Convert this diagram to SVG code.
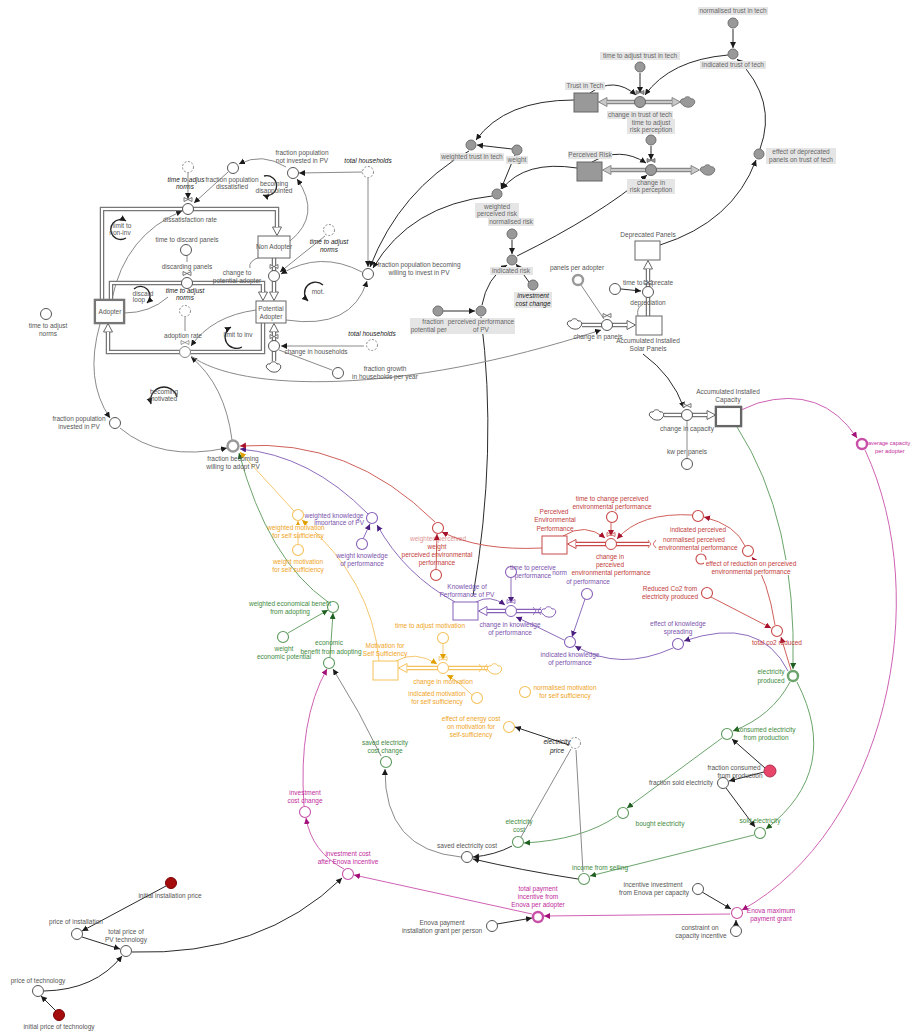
<svg xmlns="http://www.w3.org/2000/svg" width="913" height="1032" viewBox="0 0 913 1032">
<defs>
<style>
text{font-family:"Liberation Sans",Arial,sans-serif;font-size:6.5px;text-anchor:middle;fill:#555}
text.it{font-style:italic;fill:#1a1a1a}
text.r{fill:#c23b3b} text.p{fill:#7b52ad} text.o{fill:#f0a41c} text.g{fill:#3e8a3e} text.m{fill:#c22a9c}
text.gb{fill:#666}
.bg{fill:#e5e5e5}
.n{fill:#fff;stroke:#555;stroke-width:1}
.ng{fill:#999;stroke:#6f6f6f;stroke-width:1}
.nh{fill:#fff;stroke:#888;stroke-width:1;stroke-dasharray:2 1.6}
.nr{fill:#fff;stroke:#c84848;stroke-width:1.1}
.np{fill:#fff;stroke:#8660b8;stroke-width:1.1}
.no{fill:#fff;stroke:#f5c15a;stroke-width:1.1}
.ngn{fill:#fff;stroke:#5c9a5c;stroke-width:1.1}
.nm{fill:#fff;stroke:#c850a8;stroke-width:1.1}
.thick{stroke-width:2.4}
.s{fill:#fff;stroke:#666;stroke-width:1}
.sg{fill:#999;stroke:#666;stroke-width:1}
.l{fill:none;stroke-width:1}
.ck{stroke:#2a2a2a;marker-end:url(#ak)}
.cg{stroke:#8a8a8a;marker-end:url(#ak)}
.cn{stroke:#8a8a8a}
.cr{stroke:#d0605a;marker-end:url(#ar)}
.cp{stroke:#8d6cbc;marker-end:url(#ap)}
.co{stroke:#f6c870;marker-end:url(#ao)}
.cgn{stroke:#6ba46b;marker-end:url(#ag)}
.cm{stroke:#cf62b4;marker-end:url(#am)}
.lp{fill:none;stroke:#222;stroke-width:1.3;marker-end:url(#ak)}
.po{fill:none;stroke-width:4.5}
.pi{fill:none;stroke:#fff;stroke-width:2}
</style>
<marker id="ak" markerUnits="userSpaceOnUse" markerWidth="7" markerHeight="7" refX="6" refY="3" orient="auto"><path d="M0,0L6,3L0,6z" fill="#1a1a1a"/></marker>
<marker id="ar" markerUnits="userSpaceOnUse" markerWidth="7" markerHeight="7" refX="6" refY="3" orient="auto"><path d="M0,0L6,3L0,6z" fill="#a8122c"/></marker>
<marker id="ap" markerUnits="userSpaceOnUse" markerWidth="7" markerHeight="7" refX="6" refY="3" orient="auto"><path d="M0,0L6,3L0,6z" fill="#4b1f7f"/></marker>
<marker id="ao" markerUnits="userSpaceOnUse" markerWidth="7" markerHeight="7" refX="6" refY="3" orient="auto"><path d="M0,0L6,3L0,6z" fill="#e0a000"/></marker>
<marker id="ag" markerUnits="userSpaceOnUse" markerWidth="7" markerHeight="7" refX="6" refY="3" orient="auto"><path d="M0,0L6,3L0,6z" fill="#1f5f1f"/></marker>
<marker id="am" markerUnits="userSpaceOnUse" markerWidth="7" markerHeight="7" refX="6" refY="3" orient="auto"><path d="M0,0L6,3L0,6z" fill="#a3107a"/></marker>
<marker id="tk" markerUnits="userSpaceOnUse" markerWidth="12" markerHeight="12" refX="1" refY="5" orient="auto-start-reverse"><path d="M1,0.5L9.5,5L1,9.5z" fill="#fff" stroke="#666"/></marker>
<marker id="tgy" markerUnits="userSpaceOnUse" markerWidth="12" markerHeight="12" refX="1" refY="5" orient="auto-start-reverse"><path d="M1,0.5L9.5,5L1,9.5z" fill="#c8c8c8" stroke="#888"/></marker>
<marker id="tr" markerUnits="userSpaceOnUse" markerWidth="12" markerHeight="12" refX="1" refY="5" orient="auto-start-reverse"><path d="M1,0.5L9.5,5L1,9.5z" fill="#fff" stroke="#c84848"/></marker>
<marker id="tp" markerUnits="userSpaceOnUse" markerWidth="12" markerHeight="12" refX="1" refY="5" orient="auto-start-reverse"><path d="M1,0.5L9.5,5L1,9.5z" fill="#fff" stroke="#8660b8"/></marker>
<marker id="to" markerUnits="userSpaceOnUse" markerWidth="12" markerHeight="12" refX="1" refY="5" orient="auto-start-reverse"><path d="M1,0.5L9.5,5L1,9.5z" fill="#fff" stroke="#f5c15a"/></marker>
<g id="valve"><path d="M-4,-11.5L4,-7.5L4,-11.5L-4,-7.5Z" stroke="currentColor" stroke-width="0.8"/><circle r="5.5" stroke="currentColor" stroke-width="1"/></g>
<path id="cloud" d="M-6,2C-9,1 -8,-4 -4,-3C-3,-6 2,-6 3,-3C7,-4 8,1 5,3C4,6 -4,6 -6,2Z" stroke="currentColor" stroke-width="1"/>
<path id="ends" d="M-4,-4L-1,0L-4,4M4,-4L1,0L4,4" fill="none" stroke="currentColor" stroke-width="0.8"/>
</defs>
<rect width="913" height="1032" fill="#fff"/>

<!-- connectors -->
<g id="connectors">
<!-- trust / risk block -->
<path class="l ck" d="M733,29L733,48"/>
<path class="l ck" d="M640,73L640,93"/>
<path class="l ck" d="M590,93Q614,76 636,95"/>
<path class="l ck" d="M728,55Q670,60 645,95"/>
<path class="l ck" d="M760,149Q778,100 737,59"/>
<path class="l ck" d="M660,245Q733,222 756,160"/>
<path class="l ck" d="M651,146L651,160"/>
<path class="l ck" d="M592,162Q620,146 646,163"/>
<path class="l ck" d="M517,256Q600,215 647,175"/>
<path class="l ck" d="M574,100Q505,100 476,140"/>
<path class="l ck" d="M512,149L477,145"/>
<path class="l ck" d="M515,155L501,189"/>
<path class="l ck" d="M577,168Q525,160 502,189"/>
<path class="l ck" d="M469,151Q400,190 370,267"/>
<path class="l ck" d="M492,196Q410,205 373,268"/>
<path class="l ck" d="M512,240L512,254"/>
<path class="l ck" d="M529,282L516,264"/>
<path class="l ck" d="M443,311L475,311"/>
<path class="l ck" d="M482,305Q487,278 507,265"/>
<path class="l" stroke="#2a2a2a" d="M473,596Q498,450 481,317"/>
<!-- adoption block -->
<path class="l cg" d="M362,172L299,173"/>
<path class="l cg" d="M368,178L368,267"/>
<path class="l cg" d="M286,167Q262,152 239,164"/>
<path class="l cg" d="M228,172L194,203"/>
<path class="l cg" d="M188,173L188,199"/>
<path class="l cg" d="M112,299Q125,235 182,211"/>
<path class="l cg" d="M290,241Q322,215 297,179"/>
<path class="l cn" d="M187,256L187,262"/>
<path class="l cn" d="M124,313Q150,313 168,297"/>
<path class="l cn" d="M185,317L185,331"/>
<path class="l cg" d="M256,310Q212,316 191,346"/>
<path class="l cg" d="M232,440Q225,385 191,357"/>
<path class="l cg" d="M191,356C240,392 400,396 601,330"/>
<path class="l cg" d="M100,324Q84,380 110,418"/>
<path class="l cg" d="M120,428Q160,462 227,448"/>
<path class="l cg" d="M286,320Q352,330 367,281"/>
<path class="l cg" d="M362,272Q320,250 281,274"/>
<path class="l cg" d="M325,236L280,272"/>
<path class="l cn" d="M260,257Q248,261 250,268"/>
<path class="l cg" d="M364,346L281,346"/>
<path class="l cn" d="M332,370L279,350"/>
<!-- panels -->
<path class="l cn" d="M581,285L604,319"/>
<path class="l ck" d="M621,289L641,291"/>
<path class="l cn" d="M638,316Q636,308 643,304"/>
<path class="l ck" d="M643,354Q672,375 684,408"/>
<path class="l cn" d="M687,458L687,421"/>
<!-- incentive / cost chain -->
<path class="l cm" d="M741,410L758,403Q822,385 857,438"/>
<path class="l cm" d="M865,450C935,600 885,830 742,910"/>
<path class="l cm" d="M730,914L544,916"/>
<path class="l cm" d="M532,914L354,875"/>
<path class="l cm" d="M344,869Q312,852 306,818"/>
<path class="l cm" d="M304,806Q298,720 327,669"/>
<path class="l ck" d="M497,924L532,918"/>
<path class="l ck" d="M702,892L731,909"/>
<path class="l ck" d="M736,925L736,920"/>
<path class="l ck" d="M166,886L82,931"/>
<path class="l ck" d="M82,937L120,949"/>
<path class="l ck" d="M56,1011L41,996"/>
<path class="l ck" d="M44,991Q95,990 122,956"/>
<path class="l ck" d="M132,952Q262,956 342,878"/>
<!-- electricity -->
<path class="l cgn" d="M737,427Q797,520 793,669"/>
<path class="l cgn" d="M790,682Q772,716 733,731"/>
<path class="l cgn" d="M797,682Q842,770 766,829"/>
<path class="l cgn" d="M722,738L627,808"/>
<path class="l ck" d="M765,768L732,739"/>
<path class="l ck" d="M764,772L729,781"/>
<path class="l ck" d="M726,788L755,827"/>
<path class="l cgn" d="M754,835L590,876"/>
<path class="l cgn" d="M617,816Q582,840 524,843"/>
<path class="l ck" d="M512,846Q495,855 473,857"/>
<path class="l ck" d="M578,879Q520,870 473,859"/>
<path class="l cg" d="M461,857Q384,850 385,769"/>
<path class="l cg" d="M381,756Q360,712 333,669"/>
<path class="l cgn" d="M330,657L333,613"/>
<path class="l cgn" d="M288,633L328,610"/>
<path class="l cgn" d="M328,602Q268,560 239,453"/>
<path class="l ck" d="M569,745L515,727"/>
<path class="l cn" d="M571,749L521,837"/>
<path class="l cn" d="M576,750L583,872"/>
<!-- motivation -->
<path class="l co" d="M294,511L240,452"/>
<path class="l co" d="M298,545L298,521"/>
<path class="l co" d="M379,661Q372,580 302,520"/>
<path class="l co" d="M443,643L443,660"/>
<path class="l co" d="M396,661Q415,650 437,664"/>
<path class="l co" d="M472,695Q460,682 447,675"/>
<!-- knowledge -->
<path class="l cp" d="M368,514Q310,455 240,449"/>
<path class="l cp" d="M363,539L370,524"/>
<path class="l cp" d="M455,602Q405,575 377,525"/>
<path class="l cp" d="M511,577L511,603"/>
<path class="l cp" d="M476,602Q490,594 505,605"/>
<path class="l cp" d="M564,640Q540,628 516,617"/>
<path class="l cp" d="M585,599L572,637"/>
<path class="l cp" d="M788,671Q760,615 684,641"/>
<path class="l cp" d="M673,648Q620,672 575,646"/>
<!-- environmental performance -->
<path class="l cr" d="M435,522Q350,438 240,446"/>
<path class="l cr" d="M436,570L437,534"/>
<path class="l cr" d="M542,548Q480,551 442,532"/>
<path class="l cr" d="M611,522L611,536"/>
<path class="l cr" d="M563,536Q585,522 605,538"/>
<path class="l cr" d="M693,515Q640,512 617,539"/>
<path class="l cr" d="M745,546Q736,525 704,517"/>
<path class="l cr" d="M775,625Q768,580 752,557"/>
<path class="l cr" d="M711,597L771,628"/>
<path class="l cr" d="M791,670L781,637"/>
<!-- feedback loop markers -->
<path class="lp" d="M126,238A10,10 0 1 1 126,221"/>
<path class="lp" d="M264,176A10,10 0 1 1 263,195"/>
<path class="lp" d="M134,289A9,9 0 1 1 147,303"/>
<path class="lp" d="M242,347A10,10 0 1 1 231,327"/>
<path class="lp" d="M323,285A9,9 0 1 0 308,301"/>
<path class="lp" d="M177,397A12,12 0 1 0 151,404"/>
</g>

<!-- material flows -->
<g id="flows">
<path class="po" stroke="#888" marker-start="url(#tgy)" marker-end="url(#tgy)" d="M607,102L672,102"/><path class="pi" style="stroke:#c8c8c8" d="M607,102L672,102"/>
<path class="po" stroke="#888" marker-start="url(#tgy)" marker-end="url(#tgy)" d="M611,170L691,170"/><path class="pi" style="stroke:#c8c8c8" d="M611,170L691,170"/>
<path class="po" stroke="#777" marker-end="url(#tk)" d="M102,300L102,209L277,209L277,227"/><path class="pi" d="M102,300L102,209L277,209L277,227"/>
<path class="po" stroke="#777" marker-end="url(#tk)" d="M111,300L111,283L263,283L263,292"/><path class="pi" d="M111,300L111,283L263,283L263,292"/>
<path class="po" stroke="#777" marker-end="url(#tk)" d="M274,258L274,292"/><path class="pi" d="M274,258L274,292"/>
<path class="po" stroke="#777" marker-end="url(#tk)" d="M263,323L263,352L108,352L108,332"/><path class="pi" d="M263,323L263,352L108,352L108,332"/>
<path class="po" stroke="#777" marker-end="url(#tk)" d="M274,361L274,332"/><path class="pi" d="M274,361L274,332"/>
<path class="po" stroke="#777" marker-end="url(#tk)" d="M582,325L627,325"/><path class="pi" d="M582,325L627,325"/>
<path class="po" stroke="#777" marker-end="url(#tk)" d="M648,316L648,269"/><path class="pi" d="M648,316L648,269"/>
<path class="po" stroke="#777" marker-end="url(#tk)" d="M664,415L707,415"/><path class="pi" d="M664,415L707,415"/>
<path class="po" stroke="#c84848" marker-end="url(#tr)" d="M649,544L576,544"/><path class="pi" d="M649,544L576,544"/>
<path class="po" stroke="#8660b8" marker-end="url(#tp)" d="M541,611L487,611"/><path class="pi" d="M541,611L487,611"/>
<path class="po" stroke="#f5c15a" marker-end="url(#to)" d="M488,668L407,668"/><path class="pi" d="M488,668L407,668"/>
<use href="#cloud" x="688" y="102" color="#777" fill="#999"/>
<use href="#cloud" x="708" y="170" color="#777" fill="#999"/>
<use href="#cloud" x="274" y="367" color="#555" fill="#fff"/>
<use href="#cloud" x="575" y="324" color="#555" fill="#fff"/>
<use href="#cloud" x="657" y="415" color="#555" fill="#fff"/>
<use href="#ends" x="652" y="544" color="#c84848"/>
<use href="#ends" x="537" y="611" color="#8660b8"/>
<use href="#cloud" x="549" y="612" color="#8660b8" fill="#fff"/>
<use href="#ends" x="483" y="668" color="#f5c15a"/>
<use href="#cloud" x="495" y="669" color="#f5c15a" fill="#fff"/>
</g>

<!-- trust and risk -->
<g id="normalised-trust"><rect class="bg" x="698" y="7" width="70" height="8"/><text class="gb" x="733" y="13">normalised trust in tech</text><circle class="ng" cx="733" cy="23" r="5"/></g>
<g id="time-adjust-trust"><rect class="bg" x="600" y="52" width="80" height="8"/><text class="gb" x="640" y="58">time to adjust trust in tech</text><circle class="ng" cx="640" cy="67" r="5"/></g>
<g id="indicated-trust"><circle class="ng" cx="733" cy="54" r="5"/><rect class="bg" x="700" y="61" width="66" height="8"/><text class="gb" x="733" y="67">indicated trust of tech</text></g>
<g id="trust-in-tech"><rect class="bg" x="565" y="82" width="40" height="8"/><text class="gb" x="585" y="88">Trust in Tech</text><rect class="sg" x="574" y="93" width="24" height="19"/></g>
<g id="change-trust"><use href="#valve" x="640" y="102" color="#666" fill="#999"/><rect class="bg" x="607" y="111" width="66" height="8"/><text class="gb" x="640" y="117">change in trust of tech</text></g>
<g id="time-adjust-risk"><rect class="bg" x="627" y="119" width="48" height="15"/><text class="gb" x="651" y="125">time to adjust</text><text class="gb" x="651" y="132">risk perception</text><circle class="ng" cx="651" cy="140" r="5"/></g>
<g id="perceived-risk"><rect class="bg" x="568" y="151" width="44" height="8"/><text class="gb" x="590" y="157">Perceived Risk</text><rect class="sg" x="577" y="162" width="25" height="19"/></g>
<g id="change-risk"><use href="#valve" x="651" y="170" color="#666" fill="#999"/><rect class="bg" x="627" y="179" width="48" height="15"/><text class="gb" x="651" y="185">change in</text><text class="gb" x="651" y="192">risk perception</text></g>
<g id="effect-deprecated"><circle class="ng" cx="759" cy="154" r="5"/><rect class="bg" x="766" y="148" width="70" height="16"/><text class="gb" x="801" y="154">effect of deprecated</text><text class="gb" x="801" y="162">panels on trust of tech</text></g>
<g id="weighted-trust"><circle class="ng" cx="471" cy="145" r="5"/><rect class="bg" x="440" y="153" width="64" height="8"/><text class="gb" x="472" y="159">weighted trust in tech</text></g>
<g id="weight"><circle class="ng" cx="517" cy="150" r="5"/><rect class="bg" x="506" y="156" width="22" height="8"/><text class="gb" x="517" y="162">weight</text></g>
<g id="weighted-risk"><circle class="ng" cx="497" cy="194" r="5"/><rect class="bg" x="475" y="203" width="44" height="15"/><text class="gb" x="497" y="209">weighted</text><text class="gb" x="497" y="216">perceived risk</text></g>
<g id="normalised-risk"><rect class="bg" x="488" y="218" width="46" height="8"/><text class="gb" x="511" y="224">normalised risk</text><circle class="ng" cx="512" cy="234" r="5"/></g>
<g id="indicated-risk"><circle class="ng" cx="512" cy="260" r="5"/><rect class="bg" x="490" y="267" width="43" height="8"/><text class="gb" x="511" y="273">indicated risk</text></g>
<g id="investment-cost-change-ref"><circle class="ng" cx="533" cy="285" r="5"/><rect class="bg" x="514" y="292" width="38" height="16"/><text class="it" x="533" y="298">investment</text><text class="it" x="533" y="306">cost change</text></g>
<g id="fraction-potential-perceived"><circle class="ng" cx="438" cy="311" r="5"/><rect class="bg" x="410" y="318" width="56" height="16"/><text class="gb" x="433" y="324">fraction</text><text class="gb" x="438" y="332">potential perceived</text></g>
<g id="perceived-performance"><circle class="ng" cx="481" cy="311" r="5"/><rect class="bg" x="447" y="318" width="68" height="16"/><text class="gb" x="481" y="324">perceived performance</text><text class="gb" x="481" y="332">of PV</text></g>

<!-- adopter stocks and norms -->
<g id="not-invested"><text x="302" y="155">fraction population</text><text x="302" y="163">not invested in PV</text><circle class="n" cx="293" cy="173" r="5.5"/></g>
<g id="total-households-1"><text class="it" x="368" y="163">total households</text><circle class="nh" cx="368" cy="172" r="5.5"/></g>
<g id="dissatisfied"><circle class="n" cx="233" cy="168" r="5.5"/><text x="232" y="182">fraction population</text><text x="232" y="189">dissatisfied</text></g>
<g id="time-adjust-norms-1"><circle class="nh" cx="188" cy="167" r="5.5"/><text class="it" x="186" y="182">time to adjus</text><text class="it" x="185" y="189">norms</text></g>
<g id="loop-disappointed"><text x="274" y="186">becoming</text><text x="274" y="193">disappointed</text></g>
<g id="dissatisfaction-rate"><use href="#valve" x="188" y="209" color="#555" fill="#fff"/><text x="190" y="222">dissatisfaction rate</text></g>
<g id="loop-non-inv"><text x="122" y="228">limit to</text><text x="120" y="235">non-inv</text></g>
<g id="non-adopter"><rect class="s" x="258" y="236" width="32" height="22"/><text x="274" y="249">Non Adopter</text></g>
<g id="time-discard"><text x="187" y="242">time to discard panels</text><circle class="n" cx="186" cy="250" r="5.5"/></g>
<g id="discarding-panels"><text x="187" y="269">discarding panels</text><use href="#valve" x="187" y="283" color="#555" fill="#fff"/></g>
<g id="change-potential"><use href="#valve" x="274" y="276" color="#555" fill="#fff"/><text x="237" y="275">change to</text><text x="237" y="283">potential adopter</text></g>
<g id="time-adjust-norms-2"><text class="it" x="185" y="293">time to adjust</text><text class="it" x="185" y="300">norms</text><circle class="nh" cx="185" cy="311" r="5.5"/></g>
<g id="loop-discard"><text x="143" y="296">discard</text><text x="139" y="302">loop</text></g>
<g id="adopter"><rect x="95" y="300" width="29" height="23" fill="#fff" stroke="#777" stroke-width="2.6"/><rect x="96.5" y="301.5" width="26" height="20" fill="none" stroke="#fff" stroke-width="0.8"/><text x="110" y="314">Adopter</text></g>
<g id="potential-adopter"><rect class="s" x="256" y="301" width="30" height="22"/><text x="271" y="311">Potential</text><text x="271" y="319">Adopter</text></g>
<g id="adoption-rate"><text x="183" y="338">adoption rate</text><use href="#valve" x="185" y="352" color="#888" fill="#fff" stroke-width="2"/></g>
<g id="loop-inv"><text x="238" y="337">limit to inv</text></g>
<g id="time-adjust-norms-3"><circle class="n" cx="46" cy="314" r="5.5"/><text x="48" y="328">time to adjust</text><text x="48" y="336">norms</text></g>
<g id="becoming-willing-invest"><circle class="n" cx="368" cy="274" r="5.5"/><text x="419" y="267">fraction population becoming</text><text x="419" y="275">willing to invest in PV</text></g>
<g id="time-adjust-norms-4"><circle class="nh" cx="329" cy="230" r="5.5"/><text class="it" x="329" y="244">time to adjust</text><text class="it" x="329" y="252">norms</text></g>
<g id="loop-mot"><text x="318" y="294">mot.</text></g>
<g id="change-households"><use href="#valve" x="274" y="346" color="#555" fill="#fff"/><text x="316" y="354">change in households</text></g>
<g id="total-households-2"><text class="it" x="372" y="336">total households</text><circle class="nh" cx="372" cy="345" r="5.5"/></g>
<g id="fraction-growth"><circle class="n" cx="338" cy="373" r="5.5"/><text x="385" y="371">fraction growth</text><text x="385" y="379">in households per year</text></g>
<g id="loop-motivated"><text x="164" y="394">becoming</text><text x="163" y="401">motivated</text></g>
<g id="invested"><circle class="n" cx="115" cy="423" r="5.5"/><text x="79" y="421">fraction population</text><text x="79" y="429">invested in PV</text></g>
<g id="becoming-willing-adopt"><circle cx="233" cy="446" r="5.5" fill="#fff" stroke="#999" stroke-width="2.4"/><text x="233" y="461">fraction becoming</text><text x="233" y="469">willing to adopt PV</text></g>

<!-- installed panels and capacity -->
<g id="panels-per-adopter"><text x="577" y="270">panels per adopter</text><circle cx="578" cy="280" r="5" fill="#fff" stroke="#999" stroke-width="2.4"/></g>
<g id="deprecated-panels"><text x="648" y="237">Deprecated Panels</text><rect class="s" x="635" y="241" width="25" height="19"/></g>
<g id="time-deprecate"><circle class="n" cx="615" cy="289" r="5.5"/><text x="648" y="285">time to deprecate</text></g>
<g id="depreciation"><use href="#valve" x="648" y="292" color="#555" fill="#fff"/><text x="648" y="305">depreciation</text></g>
<g id="change-panels"><use href="#valve" x="607" y="325" color="#555" fill="#fff"/><text x="598" y="339">change in panels</text></g>
<g id="solar-panels"><rect class="s" x="636" y="316" width="26" height="19"/><text x="648" y="343">Accumulated Installed</text><text x="648" y="351">Solar Panels</text></g>
<g id="installed-capacity"><text x="728" y="394">Accumulated Installed</text><text x="728" y="402">Capacity</text><rect x="716" y="407" width="25" height="19" fill="#fff" stroke="#666" stroke-width="2.6"/><rect x="717.5" y="408.5" width="22" height="16" fill="none" stroke="#fff" stroke-width="0.8"/></g>
<g id="change-capacity"><use href="#valve" x="687" y="415" color="#555" fill="#fff"/><text x="687" y="431">change in capacity</text></g>
<g id="kw-per-panels"><text x="687" y="454">kw per panels</text><circle class="n" cx="687" cy="464" r="5.5"/></g>
<g id="average-capacity"><circle class="nm thick" cx="862" cy="444" r="5"/><text class="m" x="868" y="445" style="text-anchor:start;font-size:5.6px">average capacity</text><text class="m" x="875" y="453" style="text-anchor:start;font-size:5.8px">per adopter</text></g>

<!-- perceived environmental performance -->
<g id="time-change-perceived"><text class="r" x="612" y="501">time to change perceived</text><text class="r" x="612" y="509">environmental performance</text><circle class="nr" cx="612" cy="517" r="5.5"/></g>
<g id="perceived-env"><text class="r" x="554" y="514">Perceived</text><text class="r" x="555" y="522">Environmental</text><text class="r" x="555" y="531">Performance</text><rect x="542" y="536" width="25" height="18" fill="#fff" stroke="#c84848"/></g>
<g id="indicated-perceived"><circle class="nr" cx="698" cy="516" r="5.5"/><text class="r" x="698" y="532">indicated perceived</text></g>
<g id="normalised-perceived"><text class="r" x="694" y="542">normalised perceived</text><text class="r" x="698" y="550">environmental performance</text><circle class="nr" cx="701" cy="559" r="5"/></g>
<g id="effect-reduction"><circle class="nr" cx="748" cy="551" r="5.5"/><rect x="704" y="560" width="96" height="15" fill="#fff"/><text class="r" x="751" y="566">effect of reduction on perceived</text><text class="r" x="751" y="574">environmental performance</text></g>
<g id="reduced-co2"><text class="r" x="670" y="591">Reduced Co2 from</text><text class="r" x="670" y="599">electricity produced</text><circle class="nr" cx="707" cy="593" r="5.5"/></g>
<g id="total-co2"><circle class="nr" cx="777" cy="631" r="5.5"/><text class="r" x="777" y="645">total co2 reduced</text></g>
<g id="weighted-perceived-env"><circle class="nr" cx="438" cy="528" r="5.5"/><text class="r" x="438" y="541" opacity="0.55">weighted perceived</text><text class="r" x="437" y="549">weight</text><text class="r" x="437" y="557">perceived environmental</text><text class="r" x="437" y="565">performance</text></g>
<g id="weight-perceived-env"><circle class="nr" cx="436" cy="575" r="5.5"/></g>

<!-- knowledge of performance -->
<g id="weighted-knowledge"><circle class="np" cx="372" cy="518" r="5.5"/><text class="p" x="334" y="518">weighted knowledge</text><text class="p" x="364" y="525" style="text-anchor:end">importance of PV</text></g>
<g id="weight-knowledge"><circle class="np" cx="362" cy="544" r="5.5"/><text class="p" x="362" y="558">weight knowledge</text><text class="p" x="362" y="566">of performance</text></g>
<g id="knowledge"><text class="p" x="467" y="589">Knowledge of</text><text class="p" x="467" y="597">Performance of PV</text><rect x="453" y="602" width="25" height="18" fill="#fff" stroke="#8660b8"/></g>
<g id="time-perceive"><circle class="np" cx="511" cy="572" r="5.5"/><text class="p" x="533" y="570">time to perceive</text><text class="p" x="533" y="578">performance</text></g>
<g id="change-knowledge"><use href="#valve" x="511" y="611" color="#8660b8" fill="#fff"/><text class="p" x="510" y="627">change in knowledge</text><text class="p" x="510" y="635">of performance</text></g>
<g id="normalised-knowledge"><text class="p" x="567" y="575" style="text-anchor:end">norm</text><text class="p" x="588" y="584">of performance</text><circle class="np" cx="587" cy="594" r="5.5"/></g>
<g id="change-perceived-env"><use href="#valve" x="611" y="544" color="#c84848" fill="#fff"/><text class="r" x="610" y="559">change in</text><text class="r" x="610" y="567">perceived</text><text class="r" x="611" y="575">environmental performance</text></g>
<g id="indicated-knowledge"><circle class="np" cx="570" cy="642" r="5.5"/><text class="p" x="570" y="657">indicated knowledge</text><text class="p" x="570" y="665">of performance</text></g>
<g id="effect-knowledge"><text class="p" x="678" y="626">effect of knowledge</text><text class="p" x="678" y="634">spreading</text><circle class="np" cx="678" cy="644" r="5.5" stroke-width="1.6"/></g>

<!-- motivation for self sufficiency -->
<g id="weighted-motivation"><circle class="no" cx="298" cy="515" r="5.5"/><rect x="270" y="525" width="52" height="7" fill="#fff"/><text class="o" x="296" y="530">weighted motivation</text><text class="o" x="298" y="538">for self sufficiency</text></g>
<g id="weight-motivation"><circle class="no" cx="298" cy="550" r="5.5"/><text class="o" x="298" y="564">weight motivation</text><text class="o" x="298" y="572">for self sufficiency</text></g>
<g id="motivation"><text class="o" x="385" y="648">Motivation for</text><text class="o" x="385" y="656">Self Sufficiency</text><rect x="373" y="661" width="25" height="19" fill="#fff" stroke="#f5c15a"/></g>
<g id="time-adjust-motivation"><text class="o" x="430" y="628">time to adjust motivation</text><circle class="no" cx="443" cy="638" r="5.5"/></g>
<g id="change-motivation"><use href="#valve" x="443" y="668" color="#f5c15a" fill="#fff"/><text class="o" x="443" y="684">change in motivation</text></g>
<g id="indicated-motivation"><circle class="no" cx="477" cy="698" r="5.5"/><text class="o" x="437" y="696">indicated motivation</text><text class="o" x="437" y="704">for self sufficiency</text></g>
<g id="normalised-motivation"><circle class="no" cx="525" cy="692" r="5.5"/><text class="o" x="565" y="690">normalised motivation</text><text class="o" x="565" y="698">for self sufficiency</text></g>
<g id="effect-energy-cost"><circle class="no" cx="509" cy="727" r="5.5"/><text class="o" x="471" y="721">effect of energy cost</text><text class="o" x="471" y="729">on motivation for</text><text class="o" x="471" y="737">self-sufficiency</text></g>
<g id="electricity-price"><circle class="nh" cx="575" cy="743" r="5.5"/><text class="it" x="557" y="744">electricity</text><text class="it" x="557" y="753">price</text></g>

<!-- economics -->
<g id="weighted-economic"><circle class="ngn" cx="333" cy="607" r="5.5"/><text class="g" x="290" y="606">weighted economical benefit</text><text class="g" x="290" y="614">from adopting</text></g>
<g id="weight-economic"><circle class="ngn" cx="283" cy="637" r="5.5"/><text class="g" x="284" y="651">weight</text><text class="g" x="284" y="659">economic potential</text></g>
<g id="economic-benefit"><text class="g" x="329" y="645">economic</text><text class="g" x="331" y="654">benefit from adopting</text><circle class="ngn" cx="329" cy="663" r="5.5"/></g>
<g id="saved-cost-change"><text class="g" x="385" y="745">saved electricity</text><text class="g" x="385" y="753">cost change</text><circle class="ngn" cx="386" cy="762" r="5.5"/></g>
<g id="electricity-cost"><text class="g" x="519" y="824">electricity</text><text class="g" x="519" y="832">cost</text><circle class="ngn" cx="518" cy="842" r="5.5"/></g>
<g id="saved-cost"><text x="467" y="848">saved electricity cost</text><circle class="n" cx="467" cy="857" r="5.5"/></g>
<g id="income-selling"><text class="g" x="600" y="870">income from selling</text><circle class="ngn" cx="584" cy="879" r="5.5"/></g>
<g id="bought-electricity"><circle class="ngn" cx="623" cy="813" r="5.5"/><text class="g" x="660" y="826">bought electricity</text></g>
<g id="fraction-sold"><text x="681" y="785">fraction sold electricity</text><circle class="n" cx="723" cy="783" r="5.5"/></g>
<g id="consumed-electricity"><circle class="ngn" cx="727" cy="734" r="5.5"/><text class="g" x="766" y="732">consumed electricity</text><text class="g" x="766" y="740">from production</text></g>
<g id="fraction-consumed"><circle cx="770" cy="771" r="6" fill="#e8456a" stroke="#b03050"/><text x="734" y="770">fraction consumed</text><text x="740" y="778">from production</text></g>
<g id="sold-electricity"><text class="g" x="760" y="823">sold electricity</text><circle class="ngn" cx="760" cy="833" r="5.5"/></g>
<g id="electricity-produced"><circle cx="793" cy="676" r="5" fill="#fff" stroke="#6ba46b" stroke-width="2.4"/><text class="g" x="771" y="674">electricity</text><text class="g" x="771" y="683">produced</text></g>

<!-- incentives and prices -->
<g id="investment-cost-change"><text class="m" x="305" y="795">investment</text><text class="m" x="305" y="803">cost change</text><circle class="nm" cx="305" cy="812" r="5.5"/></g>
<g id="investment-after-incentive"><text class="m" x="348" y="856">investment cost</text><text class="m" x="348" y="864">after Enova incentive</text><circle class="nm" cx="348" cy="874" r="5.5"/></g>
<g id="total-payment"><text class="m" x="538" y="891">total payment</text><text class="m" x="538" y="899">incentive from</text><text class="m" x="538" y="907">Enova per adopter</text><circle class="nm thick" cx="538" cy="917" r="5"/></g>
<g id="enova-max"><circle class="nm" cx="737" cy="913" r="5.5"/><text class="m" x="771" y="913">Enova maximum</text><text class="m" x="771" y="921">payment grant</text></g>
<g id="enova-grant"><text x="442" y="925">Enova payment</text><text x="442" y="933">installation grant per person</text><circle class="n" cx="492" cy="926" r="5.5"/></g>
<g id="incentive-investment"><text x="653" y="887">incentive investment</text><text x="654" y="895">from Enova per capacity</text><circle class="n" cx="698" cy="889" r="5.5"/></g>
<g id="constraint"><circle class="n" cx="736" cy="931" r="5.5"/><text x="700" y="930">constraint on</text><text x="701" y="938">capacity incentive</text></g>
<g id="initial-installation-price"><circle cx="171" cy="883" r="5.5" fill="#a50d0d" stroke="#7a0000"/><text x="170" y="898">initial installation price</text></g>
<g id="price-installation"><text x="76" y="924">price of installation</text><circle class="n" cx="77" cy="934" r="5.5"/></g>
<g id="total-price"><text x="126" y="934">total price of</text><text x="126" y="942">PV technology</text><circle class="n" cx="126" cy="951" r="5.5"/></g>
<g id="price-technology"><text x="38" y="983">price of technology</text><circle class="n" cx="38" cy="991" r="5.5"/></g>
<g id="initial-price-technology"><circle cx="59" cy="1015" r="5.5" fill="#a50d0d" stroke="#7a0000"/><text x="59" y="1029">initial price of technology</text></g>
</svg>
